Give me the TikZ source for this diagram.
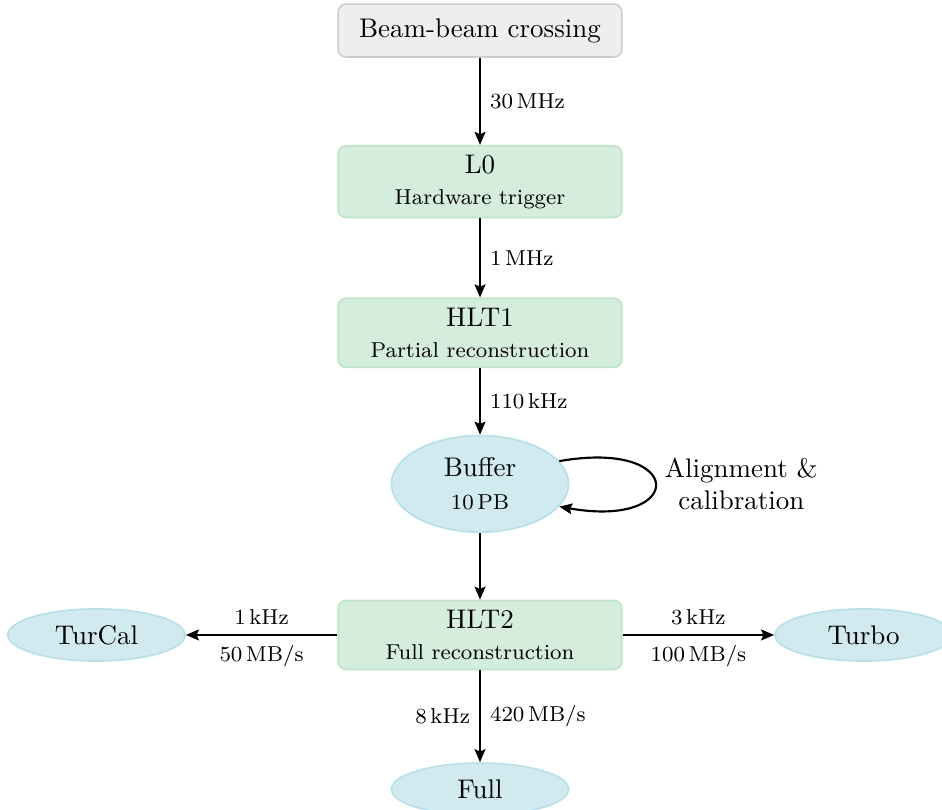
\documentclass[tikz,border=0pt]{standalone}
\usepackage{amsmath}
\usetikzlibrary{shapes.geometric, positioning, arrows.meta}
\definecolor{srcfill}{HTML}{EEEEEE}
\definecolor{srcedge}{HTML}{CCCCCC}
\definecolor{stagefill}{HTML}{D5EDDC}
\definecolor{stageedge}{HTML}{BFE3C8}
\definecolor{storefill}{HTML}{D0EAF0}
\definecolor{storeedge}{HTML}{B8DFE8}
\tikzset{
    >={Stealth[length=4.8pt, width=4pt, inset=0.8pt]},
    node distance = 1.97cm,
    source/.style={draw=srcedge, fill=srcfill, semithick, rounded corners=3pt,
        minimum width=3.7cm, minimum height=0.69cm},
    stage/.style={draw=stageedge, fill=stagefill, semithick, rounded corners=3pt,
        minimum width=3.7cm, minimum height=0.9cm, align=center},
    store/.style={ellipse, draw=storeedge, fill=storefill, semithick, inner sep=0pt,
        minimum width=2.31cm, minimum height=0.68cm, align=center},
    rate/.style={font=\footnotesize}
}

\begin{document}
\begin{tikzpicture}
    \useasboundingbox (-6.258,0.398) rectangle (6.023,-10.150);
    % trigger chain
        \node[source] (bbx) {Beam-beam crossing};
        \node[stage, below of=bbx] (l0) {L0\\[-0.5pt]{\footnotesize Hardware trigger}};
        \node[stage, below of=l0] (hlt1) {HLT1\\[-0.5pt]{\footnotesize Partial reconstruction}};
        \node[store, minimum height=1.26cm, below of=hlt1] (buf) {Buffer\\[0pt]{\footnotesize 10\,PB}};
        \node[stage, below of=buf] (hlt2) {HLT2\\[-0.5pt]{\footnotesize Full reconstruction}};
        \node[store, below of=hlt2, node distance=2.01cm] (full) {Full};
        \node[store, left of=hlt2, node distance=5cm] (turcal) {TurCal};
        \node[store, right of=hlt2, node distance=5cm] (turbo) {Turbo};
        \draw[->, thick]
            (bbx) edge node[right, rate] {30\,MHz} (l0)
            (l0) edge node[right, rate] {1\,MHz} (hlt1)
            (hlt1) edge node[right, rate] {110\,kHz} (buf)
            (buf) edge (hlt2)
            (hlt2) edge node[above, rate] {1\,kHz} node[below, rate] {50\,MB/s} (turcal)
            (hlt2) edge node[above, rate] {3\,kHz} node[below, rate] {100\,MB/s} (turbo)
            (hlt2) edge node[left, rate] {8\,kHz} node[right, rate] {420\,MB/s} (full);
        \draw[->, thick] (buf.16) to[out=10, in=-10, looseness=7.3]
            node[right, align=center] {Alignment \&\\calibration} (buf.-16);
    \end{tikzpicture}
\end{document}
